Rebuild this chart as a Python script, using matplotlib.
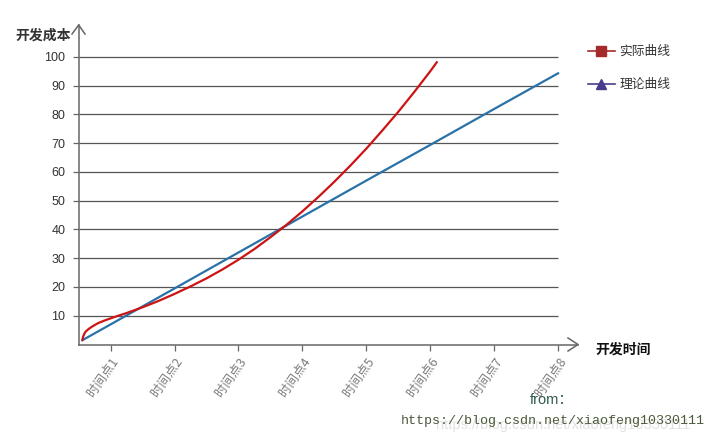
#!/usr/bin/env python3
"""
开发成本 vs 开发时间: 实际曲线 / 理论曲线
"""

import matplotlib
matplotlib.use('Agg')
import matplotlib.pyplot as plt
from matplotlib.lines import Line2D

plt.rcParams['font.family'] = ['Liberation Sans', 'Noto Sans CJK SC', 'DejaVu Sans']

# --- data ---
time_labels = ['时间点1', '时间点2', '时间点3', '时间点4',
               '时间点5', '时间点6', '时间点7', '时间点8']
time_ticks = [1, 2, 3, 4, 5, 6, 7, 8]
cost_ticks = [10, 20, 30, 40, 50, 60, 70, 80, 90, 100]

actual_x = [0.558, 0.565, 0.575, 0.59, 0.61, 0.65, 0.7, 0.8, 0.9, 1.0,
            1.125, 1.25, 1.5, 1.75, 2.0, 2.25, 2.5, 2.75, 3.0, 3.25,
            3.5, 3.75, 4.0, 4.25, 4.5, 4.75, 5.0, 5.25, 5.5, 5.75,
            6.0, 6.105]
actual_y = [1.5, 2.4, 3.1, 3.8, 4.5, 5.3, 6.1, 7.4, 8.3, 9.1,
            10.05, 10.95, 12.95, 15.15, 17.6, 20.2, 23.0, 26.1, 29.5, 33.2,
            37.3, 41.6, 46.3, 51.3, 56.6, 62.2, 68.1, 74.4, 80.9, 87.8,
            95.0, 98.2]

theory_x = [0.558, 1, 2, 3, 4, 5, 6, 7, 8]
theory_y = [1.5, 7.0, 19.5, 32.0, 44.5, 57.0, 69.4, 81.9, 94.3]

W, H = 720, 442


def fpos(x, y):
    """pixel position (top-left origin) -> figure fraction"""
    return x / W, 1 - y / H


def main():
    fig = plt.figure(figsize=(7.2, 4.42), dpi=100)
    left, top = fpos(78.7, 25.3)
    right, bottom = fpos(578, 344.5)
    ax = fig.add_axes([left, bottom, right - left, top - bottom])

    ax.set_xlim(0.5, 8.3125)
    ax.set_ylim(0, 111)

    axis_col = '#666666'
    ax.hlines(cost_ticks, 0.5, 8.0, color='#555555', linewidth=0.9, zorder=1)

    ax.plot(theory_x, theory_y, color='#2872a8', linewidth=1.6, zorder=3)
    ax.plot(actual_x, actual_y, color='#cc1414', linewidth=1.6, zorder=4,
            solid_capstyle='round', solid_joinstyle='round')

    for side in ['top', 'right']:
        ax.spines[side].set_visible(False)
    for side in ['left', 'bottom']:
        ax.spines[side].set_color(axis_col)
        ax.spines[side].set_linewidth(1.1)

    ax.set_yticks(cost_ticks)
    ax.set_yticklabels([str(v) for v in cost_ticks], fontsize=9, color='#333333')
    ax.tick_params(axis='y', length=4.5, width=0.9, color=axis_col, pad=5)

    ax.set_xticks(time_ticks)
    ax.set_xticklabels(time_labels, rotation=55, ha='right', va='top',
                       rotation_mode='anchor', fontsize=9, color='#7a7a7a',
                       family=['Noto Sans CJK SC', 'DejaVu Sans'])
    ax.tick_params(axis='x', length=4, width=0.9, color=axis_col, pad=4)

    # arrow heads on the axes
    for pts in ([(72, 34), (78.7, 25), (85, 34)],
                [(568, 338), (578, 344.5), (568, 351)]):
        xs = [fpos(*p)[0] for p in pts]
        ys = [fpos(*p)[1] for p in pts]
        fig.add_artist(Line2D(xs, ys, color=axis_col, linewidth=1.1))

    # axis names
    fig.text(*fpos(15, 36), '开发成本', fontsize=10, fontweight='bold',
             color='#333333', ha='left', va='center',
             family=['Noto Sans CJK SC'])
    fig.text(*fpos(595, 350), '开发时间', fontsize=10, fontweight='bold',
             color='#111111', ha='left', va='center',
             family=['Noto Sans CJK SC'])

    # legend
    handles = [
        Line2D([], [], color='#a52a2a', linewidth=1.2, marker='s',
               markersize=7.5, markerfacecolor='#a52a2a', markeredgecolor='#a52a2a'),
        Line2D([], [], color='#483d8b', linewidth=1.2, marker='^',
               markersize=7.5, markerfacecolor='#483d8b', markeredgecolor='#483d8b'),
    ]
    leg = fig.legend(handles, ['实际曲线', '理论曲线'], loc='upper left',
                     bbox_to_anchor=fpos(588, 45), frameon=False,
                     borderpad=0, borderaxespad=0, handlelength=2.1,
                     handletextpad=0.35, labelspacing=1.58,
                     prop={'family': ['Noto Sans CJK SC'], 'size': 9.2})
    for t in leg.get_texts():
        t.set_color('#333333')

    # source watermark
    fig.text(*fpos(530, 400), 'from：', fontsize=10.5, color='#2f5a4a',
             ha='left', va='center',
             family=['Liberation Sans', 'Noto Sans CJK SC'])
    fig.text(*fpos(436, 425), 'https://blog.csdn.net/xiaofeng10330111',
             fontsize=10.5, color='#e2e2e2', ha='left', va='center')
    fig.text(*fpos(401, 421), 'https://blog.csdn.net/xiaofeng10330111',
             fontsize=9.6, color='#4a5a3a', ha='left', va='center',
             family=['Liberation Mono'])

    fig.savefig('out.png', dpi=100)
    plt.close(fig)


if __name__ == '__main__':
    main()
